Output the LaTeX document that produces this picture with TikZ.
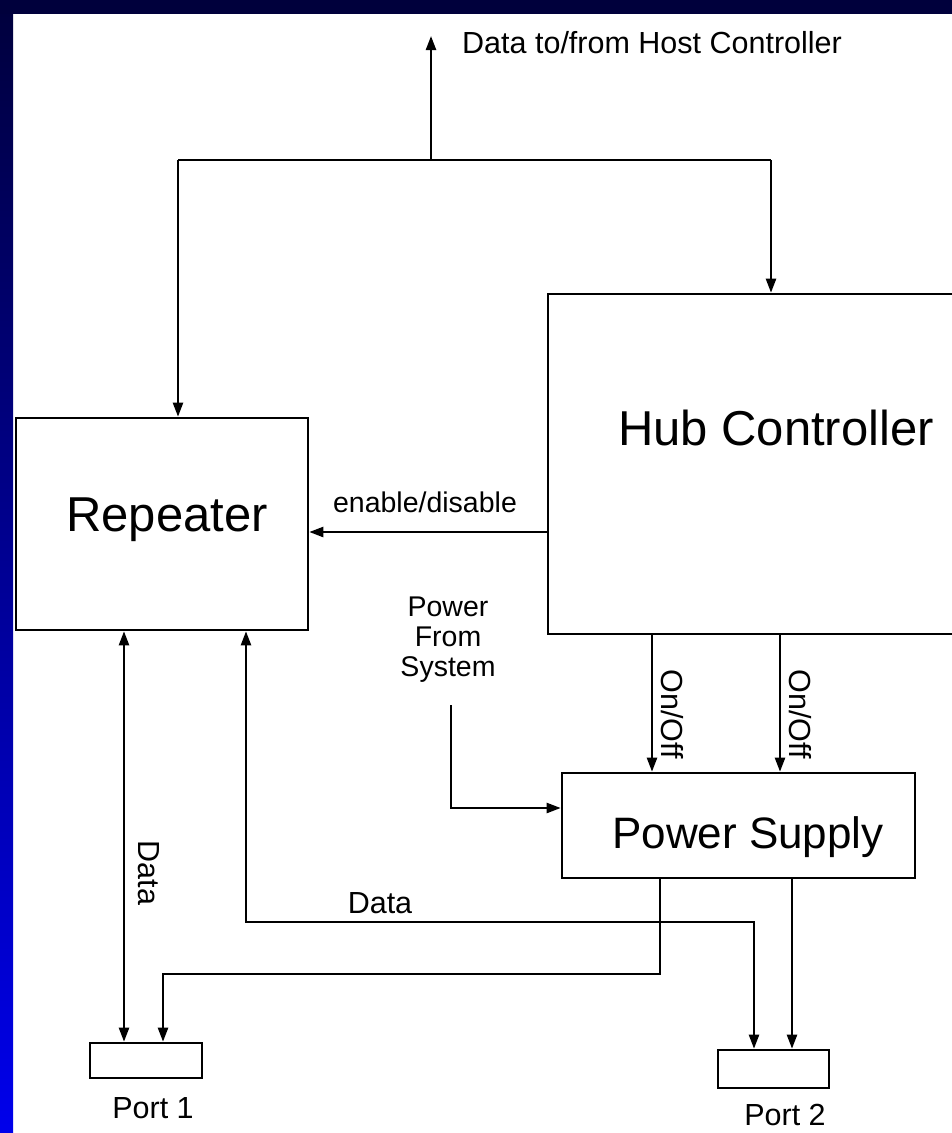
\documentclass[tikz,border=0pt]{standalone}
\usepackage{fontspec}
\setmainfont{Liberation Sans}
\usetikzlibrary{arrows.meta}
\definecolor{navytop}{RGB}{0,0,60}
\definecolor{bluebot}{RGB}{0,0,235}
\begin{document}
\begin{tikzpicture}[x=1pt,y=-1pt,
  box/.style={draw, line width=2.6pt, inner sep=0pt},
  wire/.style={line width=2.3pt},
  arr/.style={wire, -{Triangle[length=14pt,width=10pt]}},
  barr/.style={wire, {Triangle[length=14pt,width=10pt]}-{Triangle[length=14pt,width=10pt]}},
  big/.style={font=\fontsize{49}{55}\selectfont, inner sep=0pt},
  mid/.style={font=\fontsize{30.5}{34}\selectfont, inner sep=0pt},
  small/.style={font=\fontsize{28.5}{30}\selectfont, inner sep=0pt}]
\useasboundingbox (0,0) rectangle (952,1133);
\clip (0,0) rectangle (952,1133);
\fill[white] (0,0) rectangle (952,1133);
\shade[top color=navytop, bottom color=bluebot] (0,0) rectangle (13,1133);
\fill[navytop] (0,0) rectangle (952,14);

% boxes
\node[box, minimum width=292pt, minimum height=212pt] (rep) at (162,524) {};
\node[box, minimum width=460pt, minimum height=340pt] (hub) at (778,464) {};
\node[box, minimum width=353pt, minimum height=105pt] (ps) at (738.5,825.5) {};
\node[box, minimum width=112pt, minimum height=35pt] (p1) at (146,1060.5) {};
\node[box, minimum width=111pt, minimum height=38pt] (p2) at (773.5,1069) {};

% texts
\node[big, anchor=base] (reptext) at (167,531) {Repeater};
\node[big, anchor=base] (hubtext) at (776,445) {Hub Controller};
\node[font=\fontsize{44}{50}\selectfont, inner sep=0pt, anchor=base] (pstext) at (748,848) {Power Supply};
\node[mid, anchor=base west] (hosttext) at (462,53) {Data to/from Host Controller};
\node[small, anchor=base] (entext) at (425,512) {enable/disable};
\node[small, align=center] (pfstext) at (448,640) {Power\\From\\System};
\node[mid, rotate=-90] (on1text) at (672,714) {On/Off};
\node[mid, rotate=-90] (on2text) at (800,714) {On/Off};
\node[mid, rotate=-90] (data1text) at (149,873) {Data};
\node[mid, anchor=base] (data2text) at (380,913) {Data};
\node[mid, anchor=base] (p1text) at (153,1118) {Port 1};
\node[mid, anchor=base] (p2text) at (785,1125) {Port 2};

% host bus
\coordinate (busL) at (178,160);
\coordinate (busR) at (771,160);
\coordinate (busM) at (431,160);
\coordinate (hostEnd) at (431,36);
\draw[wire] (busL) -- (busR);
\draw[arr] (busM) -- (hostEnd);
\draw[arr] (busL) -- (busL |- rep.north);
\draw[arr] (busR) -- (busR |- hub.north);

% enable/disable
\coordinate (enY) at (0,532);
\draw[arr] (hub.west |- enY) -- (rep.east |- enY);

% power from system
\coordinate (pfsTop) at (451,705);
\coordinate (psIn) at (451,808);
\draw[arr] (pfsTop) -- (psIn) -- (psIn -| ps.west);

% on/off
\coordinate (on1) at (652,0);
\coordinate (on2) at (780,0);
\draw[arr] (on1 |- hub.south) -- (on1 |- ps.north);
\draw[arr] (on2 |- hub.south) -- (on2 |- ps.north);

% power to ports
\coordinate (q1) at (660,974);
\coordinate (q2) at (163,974);
\draw[arr] (q1 |- ps.south) -- (q1) -- (q2) -- (q2 |- p1.north);
\coordinate (q3) at (792,0);
\draw[arr] (q3 |- ps.south) -- (q3 |- p2.north);

% data
\coordinate (d1) at (124,0);
\draw[barr] (d1 |- rep.south) -- (d1 |- p1.north);
\coordinate (d2) at (246,922);
\coordinate (d3) at (754,922);
\draw[barr] (d2 |- rep.south) -- (d2) -- (d3) -- (d3 |- p2.north);
\end{tikzpicture}
\end{document}
